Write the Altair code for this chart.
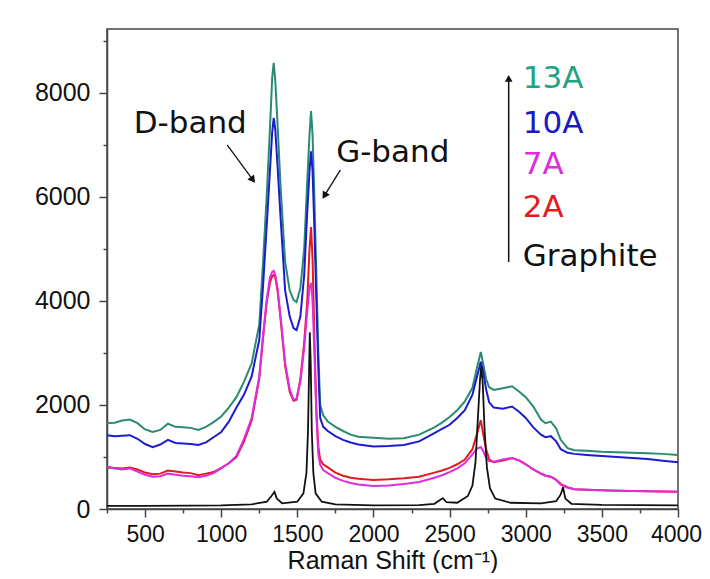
import altair as alt
import pandas as pd

# ---------------- data ----------------
shift = [250, 300, 350, 400, 450, 500, 550, 600, 650, 700, 750, 800, 850, 900, 950,
         1000, 1050, 1100, 1150, 1200, 1250, 1275, 1300, 1320, 1335, 1345, 1355, 1370,
         1390, 1420, 1450, 1475, 1495, 1520, 1545, 1565, 1580, 1590, 1600, 1612, 1625,
         1638, 1650, 1670, 1700, 1750, 1800, 1850, 1900, 2000, 2100, 2200, 2300, 2400,
         2450, 2500, 2550, 2600, 2650, 2680, 2705, 2720, 2740, 2760, 2790, 2850, 2910,
         2960, 3000, 3050, 3100, 3130, 3165, 3200, 3230, 3275, 3320, 3400, 3500, 3600,
         3700, 3800, 3900, 4000]

int_13A = [1650, 1660, 1700, 1720, 1650, 1530, 1480, 1520, 1640, 1580, 1570, 1560, 1520, 1580, 1670,
           1780, 1950, 2150, 2450, 2800, 3550, 4750, 6100, 7300, 8300, 8580, 8250, 7400,
           6200, 4750, 4200, 4020, 3980, 4250, 5000, 6300, 7200, 7650, 7200, 6000, 4500,
           3000, 2000, 1800, 1680, 1580, 1500, 1430, 1390, 1370, 1350, 1360, 1430, 1570,
           1660, 1770, 1900, 2070, 2330, 2720, 3020, 2800, 2500, 2340, 2290, 2320, 2360,
           2250, 2150, 1970, 1720, 1650, 1680, 1550, 1330, 1170, 1130, 1120, 1100, 1090,
           1080, 1070, 1060, 1040]

int_10A = [1420, 1400, 1410, 1420, 1350, 1250, 1190, 1240, 1330, 1270, 1260, 1250, 1230, 1280, 1380,
           1480, 1680, 1950, 2200, 2550, 3250, 4300, 5500, 6500, 7250, 7520, 7300, 6600,
           5600, 4200, 3700, 3480, 3440, 3700, 4500, 5700, 6500, 6880, 6500, 5400, 4000,
           2700, 1750, 1580, 1500, 1400, 1330, 1280, 1240, 1200, 1210, 1230, 1300, 1460,
           1540, 1620, 1750, 1900, 2200, 2550, 2830, 2650, 2300, 2050, 1950, 1930, 1970,
           1860, 1750, 1570, 1430, 1380, 1400, 1300, 1150, 1080, 1060, 1040, 1020, 1000,
           980, 960, 930, 900]

int_7A = [820, 780, 760, 780, 720, 660, 620, 630, 680, 660, 640, 630, 610, 640, 690,
          780, 880, 1020, 1350, 1750, 2550, 3350, 4050, 4450, 4560, 4580, 4500, 4250,
          3700, 2800, 2300, 2100, 2120, 2450, 3100, 3800, 4250, 4350, 4000, 3000, 1800,
          1050, 850, 750, 690, 600, 540, 500, 470, 440, 450, 480, 520, 600,
          650, 710, 780, 880, 1050, 1160, 1190, 1120, 980, 920, 910, 950, 980,
          930, 860, 760, 680, 640, 620, 560, 470, 410, 380, 370, 360, 350,
          345, 340, 335, 330]

int_2A = [800, 790, 780, 800, 760, 700, 670, 680, 740, 720, 700, 690, 650, 680, 710,
          790, 880, 1000, 1300, 1700, 2500, 3300, 4000, 4350, 4480, 4500, 4450, 4200,
          3650, 2750, 2250, 2080, 2100, 2500, 3200, 4000, 5000, 5420, 4800, 3300, 1900,
          1200, 950, 860, 800, 700, 640, 600, 580, 560, 570, 590, 620, 700,
          740, 790, 860, 950, 1150, 1450, 1710, 1450, 1150, 950, 900, 930, 980,
          930, 860, 760, 680, 640, 620, 560, 480, 420, 380, 370, 360, 350,
          345, 340, 335, 330]

g_shift = [250, 500, 800, 1000, 1200, 1300, 1330, 1350, 1365, 1400, 1500, 1540, 1560, 1570,
           1578, 1582, 1588, 1595, 1605, 1620, 1660, 1750, 2000, 2300, 2400, 2440, 2455,
           2480, 2550, 2620, 2650, 2670, 2685, 2700, 2708, 2718, 2730, 2745, 2765, 2800,
           2900, 3100, 3200, 3230, 3245, 3260, 3300, 3500, 4000]
int_graphite = [60, 60, 65, 70, 90, 140, 250, 330, 200, 110, 140, 300, 700, 1500,
                2800, 3400, 2800, 1500, 700, 300, 140, 90, 70, 75, 100, 180, 210,
                130, 120, 250, 450, 900, 1700, 2500, 2750, 2400, 1500, 800, 400, 200,
                120, 110, 150, 280, 420, 200, 100, 80, 70]

series_names = ["13A", "10A", "7A", "2A", "Graphite"]
line_colors = ["#2a8a74", "#1c1ccf", "#e02be0", "#e41a1c", "#111111"]
label_colors = ["#1fa383", "#1a1ac0", "#dd2ddd", "#e41a1c", "#111111"]

# annotation texts / positions (data coordinates)
band_text = ["D-band", "G-band"]
band_x = [425, 1755]
band_y = [7400, 6850]

arrow_x = [1039, 1783]
arrow_y = [7000, 6520]
arrow_x2 = [1208, 1678]
arrow_y2 = [6330, 6025]
head_angle = [143.6, 211.8]

legend_x = 2980
legend_y = [8270, 7400, 6615, 5790, 4840]
legend_arrow_x = 2888
legend_arrow_y = [4750, 8250]
legend_head_y = 8280

# ---------------- chart ----------------
x_scale = alt.Scale(domain=[250, 4000], nice=False, zero=False)
y_scale = alt.Scale(domain=[0, 9230], nice=False)

x_axis = alt.Axis(
    values=list(range(250, 4001, 250)),
    format="d",
    labelExpr="datum.value % 500 === 0 ? datum.label : ''",
    tickSize={"condition": {"test": "datum.value % 500 === 0", "value": 8}, "value": 4},
    labelOffset={"condition": {"test": "datum.value === 4000", "value": -2}, "value": 0},
    labelFontSize=23,
    labelOverlap=False,
    labelFlush=False,
    labelPadding=6,
    title="Raman Shift (cm⁻¹)",
    titlePadding=2,
)
y_axis = alt.Axis(
    values=list(range(0, 9001, 1000)),
    format="d",
    labelExpr="datum.value % 2000 === 0 ? datum.label : ''",
    tickSize={"condition": {"test": "datum.value % 2000 === 0", "value": 8}, "value": 4},
    labelFontSize=25,
    labelOverlap=False,
    labelFlush=False,
    labelPadding=9,
    title="",
)


def X(field):
    return alt.X(field, scale=x_scale, axis=x_axis)


def Y(field):
    return alt.Y(field, scale=y_scale, axis=y_axis)


series_y = [int_13A, int_10A, int_2A, int_7A]
series_n = ["13A", "10A", "2A", "7A"]

layers = []
for name, ys in zip(series_n, series_y):
    d = pd.DataFrame({"shift": shift, "intensity": ys})
    col = line_colors[series_names.index(name)]
    layers.append(
        alt.Chart(d).mark_line(color=col, strokeWidth=2).encode(
            x=X("shift:Q"), y=Y("intensity:Q"))
    )

gd = pd.DataFrame({"shift": g_shift, "intensity": int_graphite})
layers.append(
    alt.Chart(gd).mark_line(color=line_colors[4], strokeWidth=1.8).encode(
        x=X("shift:Q"), y=Y("intensity:Q"))
)

# band labels
bd = pd.DataFrame({"t": band_text, "x": band_x, "y": band_y})
layers.append(
    alt.Chart(bd).mark_text(align="left", baseline="middle", font="DejaVu Sans",
                            fontSize=31, color="#111111").encode(
        x=X("x:Q"), y=Y("y:Q"), text="t:N")
)

# band arrows
ad = pd.DataFrame({"x": arrow_x, "y": arrow_y, "x2": arrow_x2, "y2": arrow_y2,
                   "a": head_angle})
layers.append(
    alt.Chart(ad).mark_rule(color="#111111", strokeWidth=1.3).encode(
        x=X("x:Q"), y=Y("y:Q"), x2="x2:Q", y2="y2:Q")
)
layers.append(
    alt.Chart(ad).mark_point(shape="triangle-up", filled=True, size=70, color="#111111",
                             opacity=1).encode(
        x=X("x2:Q"), y=Y("y2:Q"), angle=alt.Angle("a:Q", scale=None))
)

# legend texts
ld = pd.DataFrame({"t": series_names, "x": [legend_x] * 5, "y": legend_y, "c": label_colors})
layers.append(
    alt.Chart(ld).mark_text(align="left", baseline="middle", font="DejaVu Sans",
                            fontSize=31).encode(
        x=X("x:Q"), y=Y("y:Q"), text="t:N", color=alt.Color("c:N", scale=None))
)

# legend arrow
lad = pd.DataFrame({"x": [legend_arrow_x], "y": [legend_arrow_y[0]], "y2": [legend_arrow_y[1]],
                    "yh": [legend_head_y]})
layers.append(
    alt.Chart(lad).mark_rule(color="#111111", strokeWidth=1.5).encode(
        x=X("x:Q"), y=Y("y:Q"), y2="y2:Q")
)
layers.append(
    alt.Chart(lad).mark_point(shape="triangle-up", filled=True, size=60, color="#111111",
                              opacity=1).encode(
        x=X("x:Q"), y=Y("yh:Q"))
)

chart = alt.layer(*layers).properties(
    width=571, height=480,
    autosize=alt.AutoSizeParams(type="none"),
    padding={"left": 99, "top": 21, "right": 24, "bottom": 64},
).configure_view(
    stroke="#444444", strokeWidth=1.5
).configure_axis(
    domainColor="#444444", domainWidth=1.5, tickColor="#444444", tickWidth=1.5,
    labelFont="Liberation Sans", labelColor="#111111",
    titleFont="Liberation Sans", titleFontSize=25, titleColor="#111111",
    titleFontWeight="normal", grid=False,
)

chart.save("out.html", embed_options={"renderer": "svg", "actions": False})
